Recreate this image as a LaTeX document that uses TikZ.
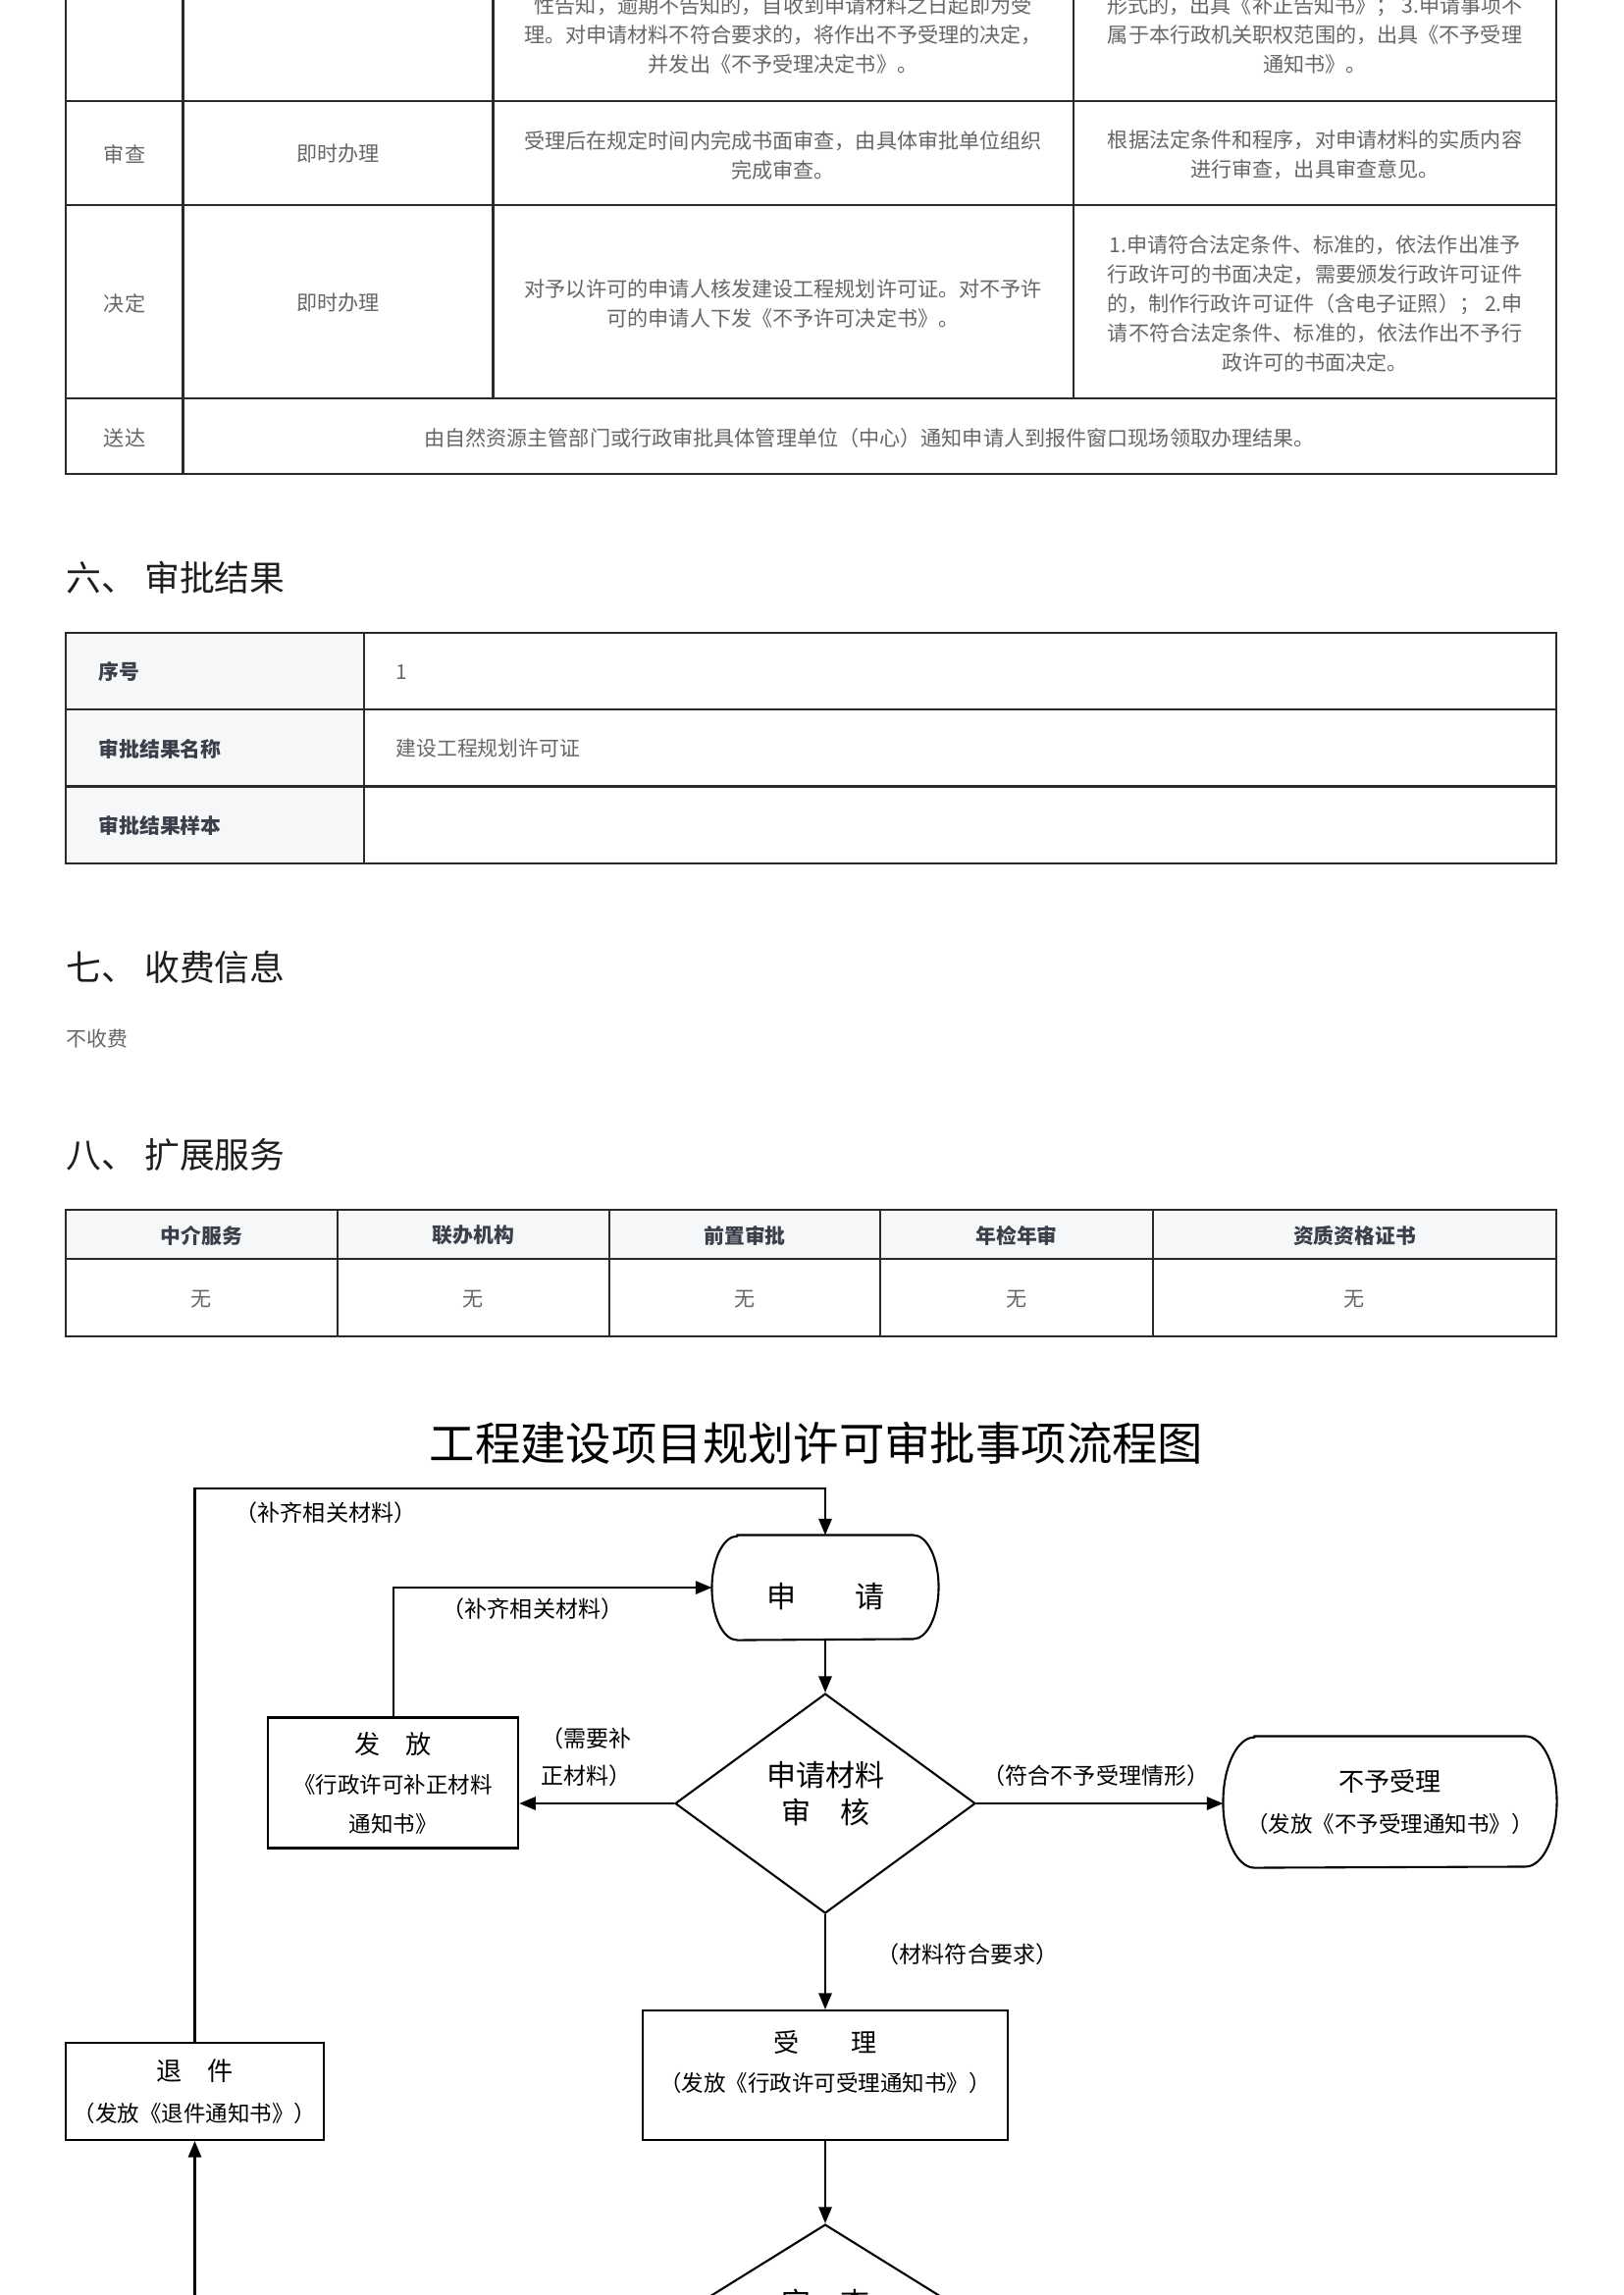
\documentclass[tikz,border=0pt]{standalone}
\usepackage{fontspec}
\setmainfont{Noto Sans CJK SC}
\usetikzlibrary{arrows.meta,shapes.geometric,calc}
\definecolor{tgray}{HTML}{666666}
\definecolor{tlabel}{HTML}{3A3F4A}
\definecolor{tline}{HTML}{2A2A2A}
\definecolor{thead}{HTML}{F6F7F9}
\definecolor{hdark}{HTML}{1E1E1E}
\newcommand\px{0.36pt}
\tikzset{
  cell/.style={font=\fontsize{7.6pt}{10.8pt}\selectfont, text=tgray, align=center, inner sep=0pt},
  lab/.style={font=\fontsize{7.5pt}{9pt}\selectfont\bfseries, text=tlabel, inner sep=0pt, anchor=west},
  val/.style={font=\fontsize{7.5pt}{9pt}\selectfont, text=tgray, inner sep=0pt, anchor=west},
  thd/.style={font=\fontsize{7.5pt}{9pt}\selectfont\bfseries, text=tlabel, inner sep=0pt},
  sechead/.style={font=\fontsize{12.9pt}{15pt}\selectfont, text=hdark, anchor=west, inner sep=0pt},
  grid/.style={draw=tline, line width=0.95pt},
  flow/.style={draw=black, line width=0.75pt},
  arr/.style={flow, -{Triangle[length=6pt,width=4.8pt]}},
  flab/.style={font=\fontsize{8.3pt}{13.7pt}\selectfont, inner sep=0pt, align=center},
  fbox/.style={flow, rectangle, inner sep=0pt, align=center, font=\fontsize{8.1pt}{15pt}\selectfont},
  term/.style={rectangle, inner sep=0pt, align=center, font=\fontsize{8.1pt}{15pt}\selectfont},
  dia/.style={flow, diamond, inner sep=0pt, align=center, font=\fontsize{10.8pt}{13.7pt}\selectfont},
}
\newcommand\bigline[1]{{\fontsize{9.4pt}{15pt}\selectfont #1}}
\begin{document}
\begin{tikzpicture}[x=0.36pt,y=-0.36pt]
\useasboundingbox (0,0) rectangle (1654,2339);
\fill[white] (0,0) rectangle (1654,2339);

% ---------- top table ----------
\draw[grid] (67,-5) -- (67,483) -- (1586,483) -- (1586,-5);
\draw[grid] (186.5,-5) -- (186.5,483);
\draw[grid] (502.8,-5) -- (502.8,406) (1094,-5) -- (1094,406);
\draw[grid] (67,103) -- (1586,103) (67,209) -- (1586,209) (67,406) -- (1586,406);

\node[cell] (r1c3) at (798,35) {性告知，逾期不告知的，自收到申请材料之日起即为受\\理。对申请材料不符合要求的，将作出不予受理的决定，\\并发出《不予受理决定书》。};
\node[cell] (r1c4) at (1340,35) {形式的，出具《补正告知书》； 3.申请事项不\\属于本行政机关职权范围的，出具《不予受理\\通知书》。};

\node[cell] (r2c1) at (127,157) {审查};
\node[cell] (r2c2) at (344.5,157) {即时办理};
\node[cell] (r2c3) at (798,158) {受理后在规定时间内完成书面审查，由具体审批单位组织\\完成审查。};
\node[cell] (r2c4) at (1340,158) {根据法定条件和程序，对申请材料的实质内容\\进行审查，出具审查意见。};

\node[cell] (r3c1) at (127,309) {决定};
\node[cell] (r3c2) at (344.5,309) {即时办理};
\node[cell] (r3c3) at (798,309) {对予以许可的申请人核发建设工程规划许可证。对不予许\\可的申请人下发《不予许可决定书》。};
\node[cell] (r3c4) at (1340,309) {1.申请符合法定条件、标准的，依法作出准予\\行政许可的书面决定，需要颁发行政许可证件\\的，制作行政许可证件（含电子证照）； 2.申\\请不符合法定条件、标准的，依法作出不予行\\政许可的书面决定。};

\node[cell] (r4c1) at (127,446) {送达};
\node[cell] (r4c2) at (886,446) {由自然资源主管部门或行政审批具体管理单位（中心）通知申请人到报件窗口现场领取办理结果。};

% ---------- section 6 ----------
\node[sechead] (h6) at (67,589) {六、 审批结果};
\fill[thead] (67,645) rectangle (371,880);
\draw[grid] (67,645) rectangle (1586,880);
\draw[grid] (67,723) -- (1586,723) (67,801.5) -- (1586,801.5) (371,645) -- (371,880);
\node[lab] (t2l1) at (100,685) {序号};
\node[lab] (t2l2) at (100,763) {审批结果名称};
\node[lab] (t2l3) at (100,841) {审批结果样本};
\node[val] (t2v1) at (403,685) {1};
\node[val] (t2v2) at (403,763) {建设工程规划许可证};

% ---------- section 7 ----------
\node[sechead] (h7) at (67,986) {七、 收费信息};
\node[val] (fee) at (67,1059) {不收费};

% ---------- section 8 ----------
\node[sechead] (h8) at (67,1177) {八、 扩展服务};
\fill[thead] (67,1233) rectangle (1586,1283);
\draw[grid] (67,1233) rectangle (1586,1362);
\draw[grid] (67,1283) -- (1586,1283);
\foreach \x in {344,621,897,1175} \draw[grid] (\x,1233) -- (\x,1362);
\node[thd] (k1) at (205.5,1259) {中介服务};
\node[thd] (k2) at (482.5,1259) {联办机构};
\node[thd] (k3) at (759,1259) {前置审批};
\node[thd] (k4) at (1036,1259) {年检年审};
\node[thd] (k5) at (1380.5,1259) {资质资格证书};
\node[cell] (w1) at (205.5,1324) {无};
\node[cell] (w2) at (482.5,1324) {无};
\node[cell] (w3) at (759,1324) {无};
\node[cell] (w4) at (1036,1324) {无};
\node[cell] (w5) at (1380.5,1324) {无};

% ---------- flowchart ----------
\node[font=\fontsize{16.7pt}{20pt}\selectfont, inner sep=0pt] (title) at (832,1471) {工程建设项目规划许可审批事项流程图};

\node[term, minimum width=230*\px, minimum height=106*\px, font=\fontsize{10.8pt}{13pt}\selectfont, text height=14.7pt, text depth=0pt] (shenqing) at (841,1618) {申　　请};
\draw[flow] ($(shenqing.north west)+(26,0)$) -- ($(shenqing.north east)+(-26,0)$)
  arc[start angle=90,end angle=-90,x radius=9.36pt,y radius=19.08pt]
  -- ($(shenqing.south west)+(26,0)$)
  arc[start angle=270,end angle=90,x radius=9.36pt,y radius=19.08pt] -- cycle;

\node[dia, minimum width=306*\px, minimum height=224*\px, text depth=7.8pt] (d1) at (841,1838) {申请材料\\审　核};

\node[fbox, minimum width=255*\px, minimum height=133*\px, font=\fontsize{8.1pt}{14.4pt}\selectfont] (fafang) at (400.7,1817) {\bigline{发　放}\\《行政许可补正材料\\通知书》};

\node[term, minimum width=339*\px, minimum height=133*\px] (buyu) at (1416.5,1836.5) {\bigline{不予受理}\\（发放《不予受理通知书》）};
\draw[flow] ($(buyu.north west)+(32,0)$) -- ($(buyu.north east)+(-32,0)$)
  arc[start angle=90,end angle=-90,x radius=11.52pt,y radius=23.94pt]
  -- ($(buyu.south west)+(32,0)$)
  arc[start angle=270,end angle=90,x radius=11.52pt,y radius=23.94pt] -- cycle;

\node[fbox, minimum width=372*\px, minimum height=132*\px, font=\fontsize{8.1pt}{14.4pt}\selectfont, text depth=10.6pt] (shouli) at (841,2115) {\bigline{受　　理}\\（发放《行政许可受理通知书》）};

\node[fbox, minimum width=263*\px, minimum height=99*\px] (tuijian) at (198.5,2131.5) {\bigline{退　件}\\（发放《退件通知书》）};

\node[dia, minimum width=360*\px, minimum height=224*\px, text depth=23.7pt] (d2) at (841,2379) {审　查};

\coordinate (loopTop) at (841,1517);
\coordinate (bottomIn) at (198.5,2350);

% connectors
\draw[arr] (tuijian.north) |- (loopTop) -- (shenqing.north);
\draw[arr] (fafang.north) |- (shenqing.west);
\draw[arr] (shenqing.south) -- (d1.north);
\draw[arr] (d1.west) -- (d1.west -| fafang.east);
\draw[arr] (d1.east) -- (d1.east -| buyu.west);
\draw[arr] (d1.south) -- (shouli.north);
\draw[arr] (shouli.south) -- (d2.north);
\draw[arr] (bottomIn) -- (tuijian.south);

% connector labels
\node[flab] (l1) at (332,1542) {（补齐相关材料）};
\node[flab] (l2) at (543,1640) {（补齐相关材料）};
\node[flab, align=left, anchor=west] (l3) at (551,1791) {（需要补\\正材料）};
\node[flab] (l4) at (1117,1810) {（符合不予受理情形）};
\node[flab] (l5) at (986,1992) {（材料符合要求）};
\end{tikzpicture}
\end{document}
